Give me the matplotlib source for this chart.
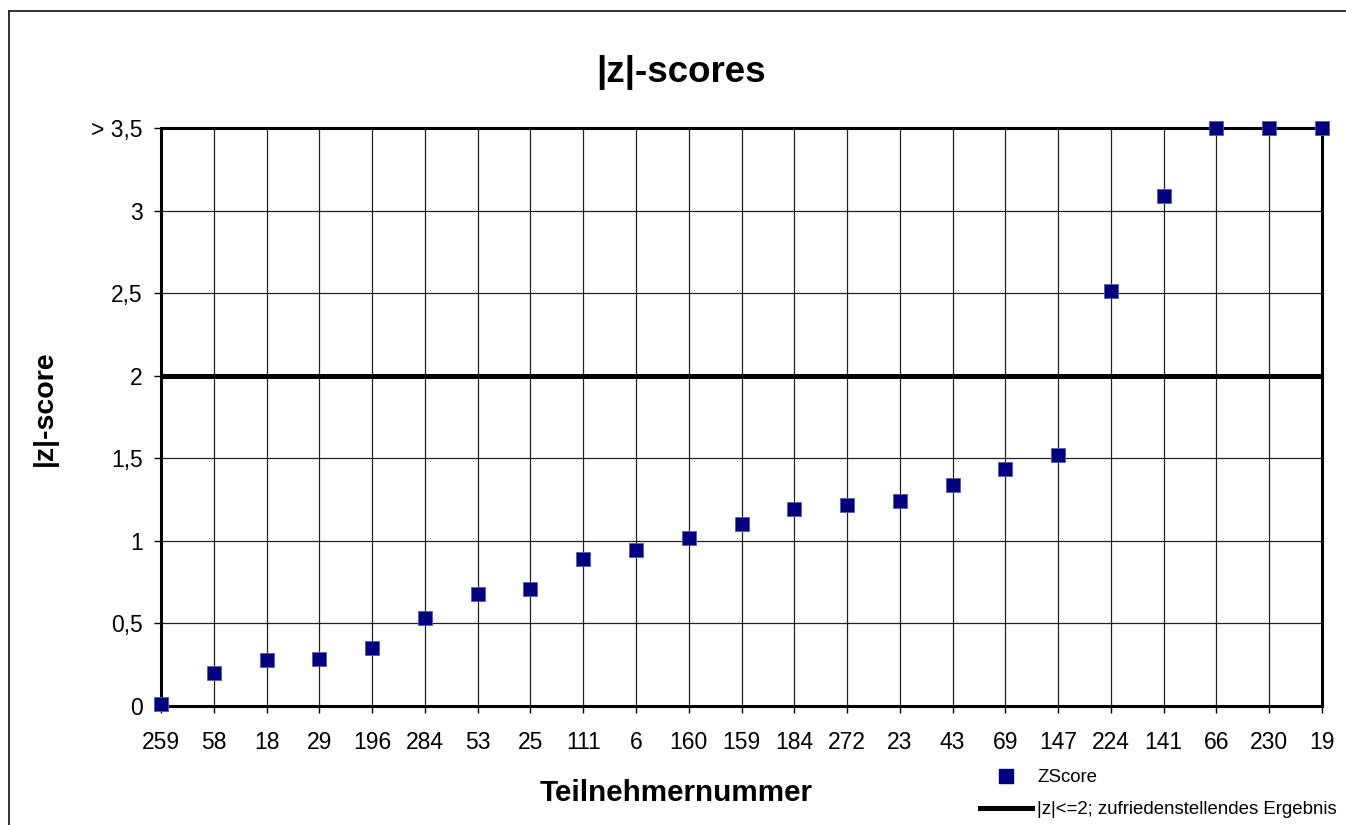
import matplotlib
matplotlib.use('Agg')
import matplotlib.pyplot as plt
from matplotlib.lines import Line2D
import numpy as np

plt.rcParams['font.family'] = ['Liberation Sans', 'DejaVu Sans']

teilnehmer = ['259', '58', '18', '29', '196', '284', '53', '25', '111', '6', '160', '159',
              '184', '272', '23', '43', '69', '147', '224', '141', '66', '230', '19']
zscore = [0.01, 0.20, 0.28, 0.285, 0.35, 0.53, 0.68, 0.71, 0.89, 0.945, 1.02, 1.10,
          1.19, 1.22, 1.24, 1.34, 1.435, 1.52, 2.51, 3.09, 3.5, 3.5, 3.5]
grenze = 2
yticks = [0, 0.5, 1, 1.5, 2, 2.5, 3, 3.5]
ytick_labels = ['0', '0,5', '1', '1,5', '2', '2,5', '3', '> 3,5']

fig = plt.figure(figsize=(13.46, 8.25), dpi=100)
ax = fig.add_axes([161/1346, 1 - 706/825, (1322-161)/1346, (706-128)/825])

x = np.arange(len(teilnehmer))
ax.set_xlim(0, len(teilnehmer) - 1)
ax.set_ylim(0, 3.5)

ax.set_xticks(x)
ax.set_xticklabels(teilnehmer, fontsize=16.5)
ax.set_yticks(yticks)
ax.set_yticklabels(ytick_labels, fontsize=16.5)
ax.tick_params(direction='out', length=5, width=1, pad=13)
ax.tick_params(axis='y', pad=8)

ax.grid(True, color='#222222', linewidth=0.9)
ax.set_axisbelow(True)
for s in ax.spines.values():
	s.set_linewidth(2.2)
	s.set_color('black')

ax.axhline(grenze, color='black', linewidth=3.6, zorder=3)
ax.plot(x, zscore, 's', color='#000080', markersize=10.5, markeredgecolor='#5a5ab0',
        markeredgewidth=0.6, clip_on=False, zorder=5)

fig.text(0.506, 1 - 73/825, '|z|-scores', fontsize=26.5, fontweight='bold', ha='center', va='center')
fig.text(0.502, 1 - 793/825, 'Teilnehmernummer', fontsize=21.3, fontweight='bold', ha='center', va='center')
fig.text(45/1346, 1 - 408/825, '|z|-score', fontsize=20.5, fontweight='bold', ha='center', va='center', rotation=90)

handles = [Line2D([], [], marker='s', linestyle='none', color='#000080', markersize=10),
           Line2D([], [], color='black', linewidth=3.6)]
fig.legend(handles, ['ZScore', '|z|<=2; zufriedenstellendes Ergebnis'], loc='lower right',
           bbox_to_anchor=(1.0, -0.003), frameon=False, fontsize=13.4, handlelength=2.8,
           handletextpad=0.25, labelspacing=0.8, borderaxespad=0.1)

# outer frame
fig.add_artist(Line2D([9/1346, 1], [1 - 11/825, 1 - 11/825], color='#222222', linewidth=1.3, transform=fig.transFigure))
fig.add_artist(Line2D([9/1346, 9/1346], [0, 1 - 11/825], color='#222222', linewidth=1.3, transform=fig.transFigure))

fig.savefig('out.png', dpi=100)
